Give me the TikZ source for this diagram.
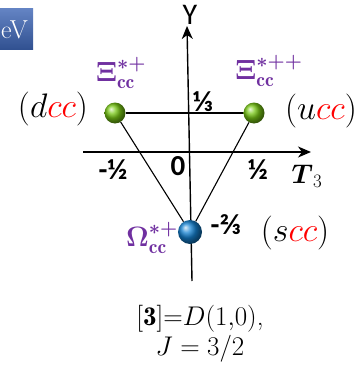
\RequirePackage{fix-cm}
\documentclass[tikz,border=0pt]{standalone}
\usepackage{fontspec}
\usepackage{amsmath}
\usetikzlibrary{arrows.meta}
\newfontfamily\calibfont{Carlito}
\definecolor{hadron}{RGB}{112,48,160}
\definecolor{boxblue}{RGB}{60,100,180}
\definecolor{greenball}{RGB}{120,200,20}
\definecolor{blueball}{RGB}{20,130,210}
\begin{document}
\begin{tikzpicture}[x=1pt,y=-1pt,
    axis/.style={line width=1.4pt, -{Stealth[length=13pt,width=11pt,inset=4pt]}},
    edge/.style={line width=1.1pt},
    ball/.style={circle, minimum size=21pt, inner sep=0pt, shading=ball},
    frac/.style={font=\calibfont\bfseries\fontsize{29}{29}\selectfont},
    quark/.style={font=\fontsize{34}{36}\selectfont},
    hadronlabel/.style={text=hadron, font=\fontsize{28}{30}\selectfont}
]
\useasboundingbox (0,0) rectangle (358,369);
% partial title box
\shade[top color=boxblue!80!white, bottom color=boxblue!80!black] (0,9) rectangle (33,50);
\node[text=white, font=\fontsize{26}{26}\selectfont, anchor=west, inner sep=0pt] (title) at (1,30) {eV};
% axes
\coordinate (ybot) at (192,281);
\coordinate (ytop) at (187,26);
\coordinate (xleft) at (83,152);
\coordinate (xright) at (311,152);
\draw[axis] (ybot) -- (ytop);
\draw[axis] (xleft) -- (xright);
\node[font=\calibfont\fontsize{30}{30}\selectfont] (ylab) at (190,15) {Y};
\node[font=\fontsize{27}{27}\selectfont] (xlab) at (307,176) {$\boldsymbol{T}_3$};
% states
\node[ball, ball color=greenball] (dcc) at (115,113) {};
\node[ball, ball color=greenball] (ucc) at (254,113) {};
\node[ball, ball color=blueball, minimum size=24pt] (scc) at (190,232) {};
\draw[edge] (dcc) -- (ucc);
\draw[edge] (dcc) -- (scc);
\draw[edge] (ucc) -- (scc);
% values
\node[frac] (third) at (203,102) {⅓};
\node[frac] (mhalf) at (113,170) {-½};
\node[frac] (zero) at (178,166) {0};
\node[frac] (half) at (258,170) {½};
\node[frac] (mtwothird) at (226,225) {-⅔};
% quark content
\node[quark] (dtxt) at (53,109) {$(d{\color{red}cc})$};
\node[quark] (utxt) at (321,111) {$(u{\color{red}cc})$};
\node[quark] (stxt) at (295,233) {$(s{\color{red}cc})$};
% hadron names
\node[hadronlabel] (xip) at (121,73) {$\boldsymbol{\Xi}_{\mathbf{cc}}^{\boldsymbol{*+}}$};
\node[hadronlabel] (xipp) at (269,71) {$\boldsymbol{\Xi}_{\mathbf{cc}}^{\boldsymbol{*++}}$};
\node[hadronlabel] (omp) at (152,238) {$\boldsymbol{\Omega}_{\mathbf{cc}}^{\boldsymbol{*+}}$};
% representation
\node[font=\fontsize{27}{30}\selectfont, align=center] (rep) at (200,334) {$[\mathbf{3}]$=$D(1{,}0)$,\\ $J=3/2$};
\end{tikzpicture}
\end{document}
